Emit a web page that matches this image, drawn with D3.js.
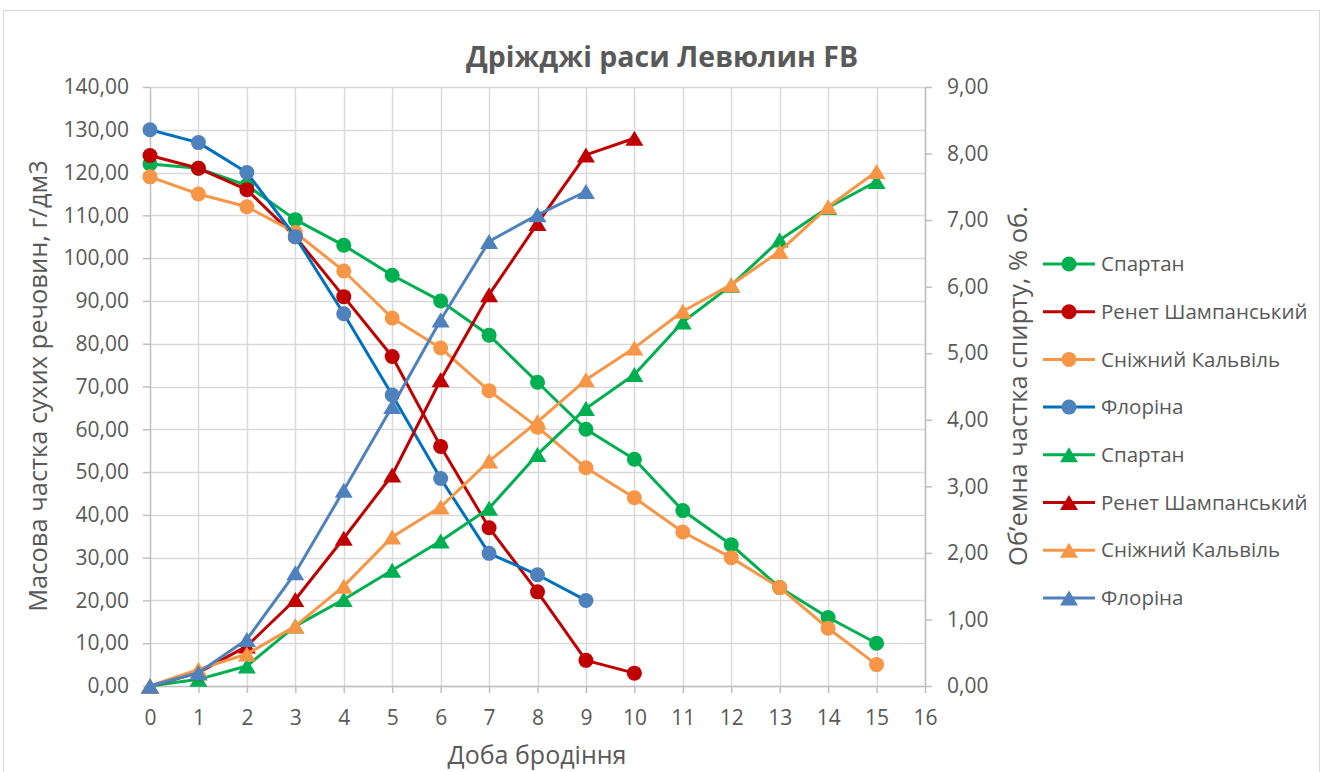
<!DOCTYPE html>
<html><head><meta charset="utf-8">
<script src="https://cdn.jsdelivr.net/npm/d3@7"></script>
<style>
html,body{margin:0;padding:0;background:#fff;}
svg text{font-family:"Open Sans","Noto Sans",sans-serif;fill:#595959;}
</style></head>
<body><svg id="c" width="1323" height="772"></svg>
<script>
const days = [0,1,2,3,4,5,6,7,8,9,10,11,12,13,14,15];
const xTicks = d3.range(0,17);
const leftTicks = d3.range(0,141,10);
const rightTicks = d3.range(0,10,1);

const seriesNames = ["Спартан","Ренет Шампанський","Сніжний Кальвіль","Флоріна"];

// Масова частка сухих речовин (left axis)
const spartanDry = [122,121,117,109,103,96,90,82,71,60,53,41,33,23,16,10];
const renetDry   = [124,121,116,105,91,77,56,37,22,6,3];
const snowDry    = [119,115,112,106,97,86,79,69,60.5,51,44,36,30,23,13.5,5];
const florinaDry = [130,127,120,105,87,68,48.5,31,26,20];

// Об'ємна частка спирту (right axis)
const spartanAlc = [0,0.1,0.3,0.9,1.3,1.74,2.18,2.67,3.48,4.17,4.68,5.47,6.02,6.7,7.19,7.58];
const renetAlc   = [0,0.2,0.6,1.3,2.22,3.17,4.6,5.88,6.95,7.98,8.23];
const snowAlc    = [0,0.25,0.48,0.9,1.5,2.24,2.69,3.38,3.97,4.6,5.08,5.63,6.03,6.53,7.2,7.73];
const florinaAlc = [0,0.2,0.7,1.7,2.94,4.2,5.5,6.68,7.08,7.43];

const colors = ["#00B050","#C00000","#F79646","#4F81BD"];
const circleLine = ["#00B050","#C00000","#F79646","#0070C0"];
const triLine = ["#00B050","#C00000","#F79646","#4F81BD"];

const svg = d3.select("#c");
const m = {l:150, r:925, t:87, b:686};

svg.append("rect").attr("x",3.5).attr("y",10.5).attr("width",1316).attr("height",770)
  .attr("fill","#fff").attr("stroke","#d9d9d9").attr("stroke-width",1);

const x = d3.scaleLinear().domain([0,16]).range([m.l,m.r]);
const yL = d3.scaleLinear().domain([0,140]).range([m.b,m.t]);
const yR = d3.scaleLinear().domain([0,9]).range([m.b,m.t]);
const fmt = v => d3.format(".2f")(v).replace(".",",");

// gridlines
const g = svg.append("g");
g.selectAll(".hg").data(leftTicks).join("line")
  .attr("x1",m.l).attr("x2",m.r).attr("y1",d=>Math.round(yL(d))+0.5).attr("y2",d=>Math.round(yL(d))+0.5)
  .attr("stroke","#d9d9d9").attr("stroke-width",1.5);
g.selectAll(".vg").data(xTicks.slice(1)).join("line")
  .attr("y1",m.t).attr("y2",m.b).attr("x1",d=>Math.round(x(d))+0.5).attr("x2",d=>Math.round(x(d))+0.5)
  .attr("stroke","#d9d9d9").attr("stroke-width",1.5);

// axes
function styleAxis(sel){
  sel.selectAll("path,line").attr("stroke","#bfbfbf").attr("stroke-width",1.5);
  sel.selectAll("text").attr("font-size",21).style("fill","#595959");
}
const axL = svg.append("g").attr("transform",`translate(${m.l},0)`)
  .call(d3.axisLeft(yL).tickValues(leftTicks).tickFormat(fmt).tickSize(7).tickSizeOuter(0).tickPadding(14));
styleAxis(axL);
const axR = svg.append("g").attr("transform",`translate(${m.r},0)`)
  .call(d3.axisRight(yR).tickValues(rightTicks).tickFormat(fmt).tickSize(7).tickSizeOuter(0).tickPadding(15));
styleAxis(axR);
const axB = svg.append("g").attr("transform",`translate(0,${m.b})`)
  .call(d3.axisBottom(x).tickValues(xTicks).tickFormat(d3.format("d")).tickSize(7).tickSizeOuter(0).tickPadding(17));
styleAxis(axB);

// titles
svg.append("text").attr("x",662).attr("y",67).attr("text-anchor","middle")
  .attr("font-size",28.5).attr("font-weight","bold").text("Дріжджі раси Левюлин FB");
svg.append("text").attr("transform","translate(47,386) rotate(-90)").attr("text-anchor","middle")
  .attr("font-size",25.5).text("Масова частка сухих речовин, г/дм3");
svg.append("text").attr("transform","translate(1027,386) rotate(-90)").attr("text-anchor","middle")
  .attr("font-size",25.5).text("Об’емна частка спирту, % об.");
svg.append("text").attr("x",537).attr("y",764).attr("text-anchor","middle")
  .attr("font-size",25).text("Доба бродіння");

const dryData = [spartanDry,renetDry,snowDry,florinaDry];
const alcData = [spartanAlc,renetAlc,snowAlc,florinaAlc];

const triPath = (w,h)=>`M0,${-h/2}L${w/2},${h/2}L${-w/2},${h/2}Z`;

const plot = svg.append("g");
dryData.forEach((arr,i)=>{
  const pts = arr.map((v,k)=>[days[k],v]);
  const line = d3.line().x(d=>x(d[0])).y(d=>yL(d[1]));
  plot.append("path").datum(pts).attr("d",line).attr("fill","none")
    .attr("stroke",circleLine[i]).attr("stroke-width",3).attr("stroke-linejoin","round");
  plot.selectAll(null).data(pts).join("circle")
    .attr("cx",d=>x(d[0])).attr("cy",d=>yL(d[1])).attr("r",7.5).attr("fill",colors[i]);
});
alcData.forEach((arr,i)=>{
  const pts = arr.map((v,k)=>[days[k],v]);
  const line = d3.line().x(d=>x(d[0])).y(d=>yR(d[1]));
  plot.append("path").datum(pts).attr("d",line).attr("fill","none")
    .attr("stroke",triLine[i]).attr("stroke-width",3).attr("stroke-linejoin","round");
  plot.selectAll(null).data(pts).join("path")
    .attr("transform",d=>`translate(${x(d[0])},${yR(d[1])})`)
    .attr("d",triPath(18,15)).attr("fill",colors[i]);
});

// legend
const lg = svg.append("g");
const entries = [];
seriesNames.forEach((n,i)=>entries.push({name:n,i,shape:"c"}));
seriesNames.forEach((n,i)=>entries.push({name:n,i,shape:"t"}));
entries.forEach((e,k)=>{
  const yy = 264 + k*47.7;
  const gg = lg.append("g").attr("transform",`translate(0,${yy})`);
  gg.append("line").attr("x1",1043).attr("x2",1095).attr("y1",0).attr("y2",0)
    .attr("stroke", e.shape==="c"?circleLine[e.i]:triLine[e.i]).attr("stroke-width",3);
  if(e.shape==="c") gg.append("circle").attr("cx",1069).attr("cy",0).attr("r",7.5).attr("fill",colors[e.i]);
  else gg.append("path").attr("transform","translate(1069,0)").attr("d",triPath(18,15)).attr("fill",colors[e.i]);
  gg.append("text").attr("x",1101).attr("y",0).attr("dy","0.35em").attr("font-size",20.5).text(e.name);
});
</script></body></html>
